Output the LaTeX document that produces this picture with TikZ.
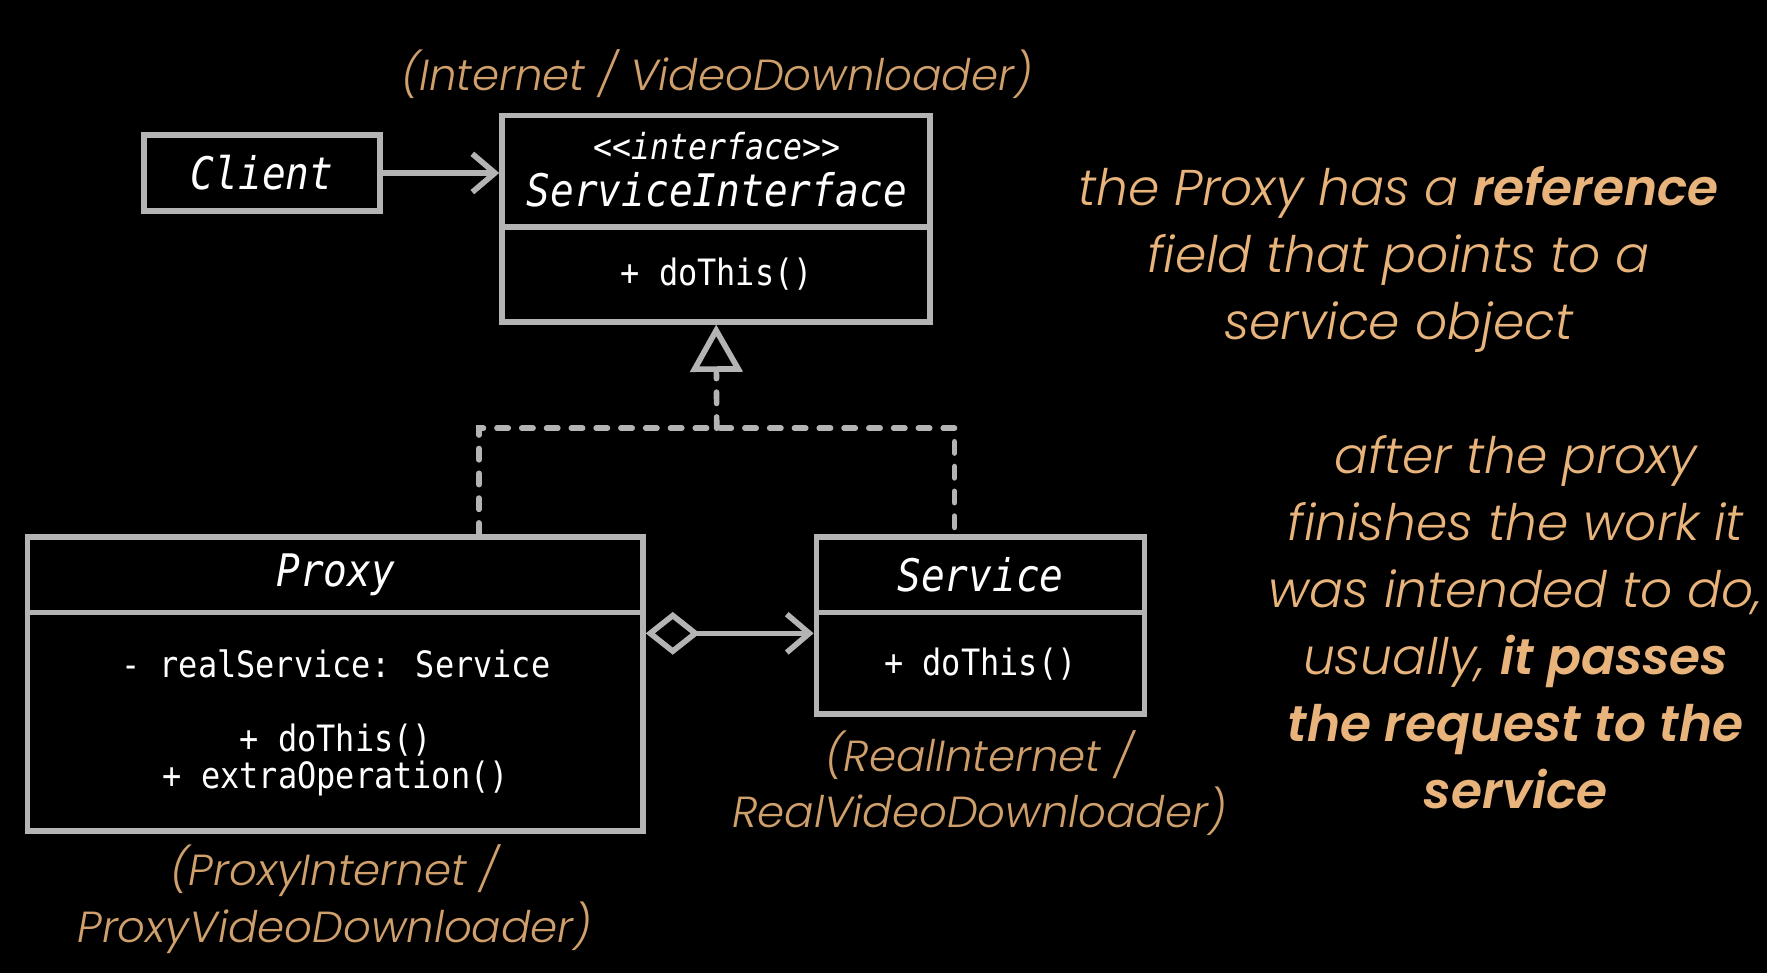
\documentclass[tikz,border=0pt]{standalone}
\usepackage{fontspec}
\usetikzlibrary{arrows.meta,calc}
\newfontfamily\boxfont{DejaVu Sans Mono}[FakeStretch=0.88]
\newfontfamily\tanfont{Poppins}[UprightFont={* Light}, ItalicFont={* Light Italic}, BoldFont={* SemiBold}, BoldItalicFont={* SemiBold Italic}]
\definecolor{linegray}{HTML}{B4B4B4}
\definecolor{tancol}{HTML}{E8B47C}
\definecolor{tandark}{HTML}{D0A06C}
\begin{document}
\begin{tikzpicture}[x=0.5pt,y=-0.5pt,
  box/.style={draw=linegray, line width=2.5pt, fill=black, inner sep=0pt, rectangle},
  conn/.style={draw=linegray, line width=2.5pt},
  dsh/.style={conn, dash pattern=on 5pt off 6pt, line cap=round},
  cls/.style={text=white, font=\boxfont\itshape\fontsize{19.9}{24}\selectfont, inner sep=0pt},
  mem/.style={text=white, font=\boxfont\fontsize{16.1}{20}\selectfont, inner sep=0pt},
  stereo/.style={text=white, font=\boxfont\itshape\fontsize{15.9}{20}\selectfont, inner sep=0pt},
  capt/.style={text=tandark, font=\tanfont\itshape\fontsize{19.3}{25}\selectfont, align=center, inner sep=0pt},
  note/.style={text=tancol, font=\tanfont\itshape\fontsize{22.3}{29.75}\selectfont, align=center, inner sep=0pt}]
\fill[black] (0,0) rectangle (1568,863);
\useasboundingbox (0,0) rectangle (1568,863);

% boxes
\node[box, minimum width=104.5pt, minimum height=33.5pt] (client) at (232.5,153.5) {};
\node[box, minimum width=190pt, minimum height=91.5pt] (si) at (635.5,194) {};
\node[box, minimum width=273pt, minimum height=130.5pt] (proxy) at (297.5,607) {};
\node[box, minimum width=145.5pt, minimum height=78.5pt] (service) at (870,555) {};

% dividers
\draw[conn] ($(si.north west)+(0,101.5)$) -- ($(si.north east)+(0,101.5)$);
\draw[conn] ($(proxy.north west)+(0,69.5)$) -- ($(proxy.north east)+(0,69.5)$);
\draw[conn] ($(service.north west)+(0,69.5)$) -- ($(service.north east)+(0,69.5)$);

% box texts
\node[cls] (clientname) at (232.5,153) {Client};
\node[stereo] (sistereo) at (636,130) {<{}<interface>{}>};
\node[cls] (siname) at (636,168) {ServiceInterface};
\node[mem] (simeth) at (636,243) {+ doThis()};
\node[cls] (proxyname) at (298,510) {Proxy};
\node[mem] (proxyfield) at (298,589) {- realService: Service};
\node[mem] (proxymeth1) at (298,657) {+ doThis()};
\node[mem] (proxymeth2) at (298,691) {+ extraOperation()};
\node[cls] (servicename) at (870,510) {Service};
\node[mem] (servicemeth) at (870,589) {+ doThis()};

% connectors
\draw[conn,-{Straight Barb[length=10pt,width=17pt]}] (client.east) -- (client.east -| si.west);

\coordinate (agg) at (0,562);
\draw[conn,{Diamond[open,length=24pt,width=19pt]}-{Straight Barb[length=10pt,width=17pt]}]
  (proxy.east |- agg) -- (service.west |- agg);

\coordinate (join) at (636,380);
\draw[dsh] ($(proxy.north)+(127.5,0)$) |- (join) -| ($(service.north)+(-23,0)$);
\draw[dsh,-{Triangle[open,length=21pt,width=23pt]}] (join) -- (si.south);

% captions
\node[capt] (capsi) at (636,66) {(Internet / VideoDownloader)};
\node[capt] (capservice) at (869,695) {(RealInternet /\\RealVideoDownloader)};
\node[capt] (capproxy) at (297,798) {(ProxyInternet /\\ProxyVideoDownloader)};

% notes
\node[note] (note1) at (1241,230) {the Proxy has a \textbf{reference}\\field that points to a\\service object};
\node[note] (note2) at (1345,552) {after the proxy\\finishes the work it\\was intended to do,\\usually, \textbf{it passes}\\\textbf{the request to the}\\\textbf{service}};
\end{tikzpicture}
\end{document}
